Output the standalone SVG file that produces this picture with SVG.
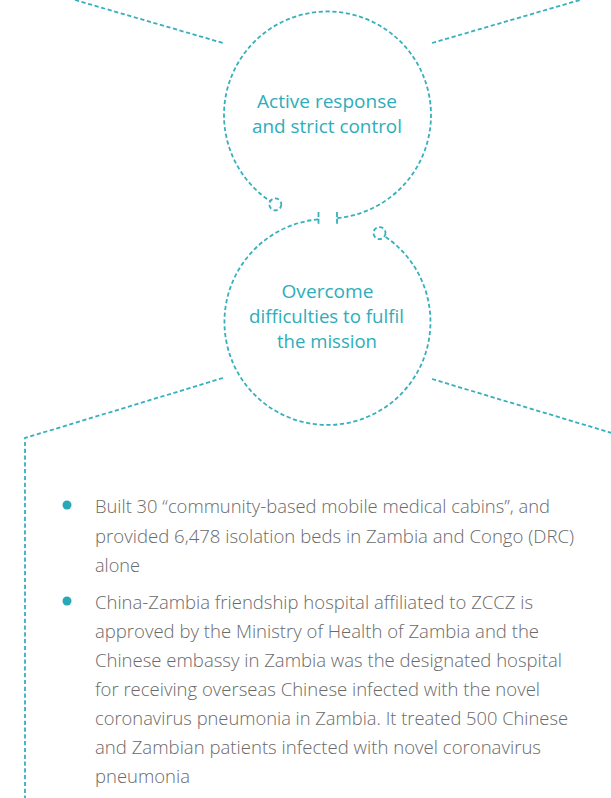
<svg xmlns="http://www.w3.org/2000/svg" width="611" height="798" viewBox="0 0 611 798">
  <style>
    .dash { fill: none; stroke: #37afbc; stroke-width: 1.8; stroke-dasharray: 4.2 2.6; }
    .tick { fill: none; stroke: #37afbc; stroke-width: 1.8; stroke-dasharray: 5 1.8; }
    .title { font-family: "Open Sans", "Liberation Sans", sans-serif; font-weight: 400; font-size: 18px; fill: #2eadba; text-anchor: middle; }
    .body { font-family: "Open Sans", "Liberation Sans", sans-serif; font-weight: 300; font-size: 17.5px; fill: #6a6a6a; }
    .bullet { fill: #2aa8b5; }
  </style>
  <rect width="611" height="798" fill="#ffffff"/>

  <g id="connectors">
    <path class="dash" d="M75,0 L223,43"/>
    <path class="dash" d="M432,43 L580,0"/>
    <path class="dash" d="M223,378 L25,438 L25,798"/>
    <path class="dash" d="M432,379 L615,434"/>
    <line class="tick" x1="318.5" y1="212" x2="318.5" y2="225"/>
    <line class="tick" x1="337" y1="212" x2="337" y2="225"/>
  </g>

  <g id="node-active-response">
    <path class="dash" d="M337.4,218 A103.5,103.5 0 1 0 270.4,201.3"/>
    <circle class="dash" cx="275.3" cy="204.4" r="6"/>
    <text class="title" x="327" y="108" textLength="140" lengthAdjust="spacingAndGlyphs">Active response</text>
    <text class="title" x="327" y="133" textLength="150" lengthAdjust="spacingAndGlyphs">and strict control</text>
  </g>

  <g id="node-overcome">
    <path class="dash" d="M318,219.4 A103,103 0 1 0 384.5,236.2"/>
    <circle class="dash" cx="379.5" cy="233.1" r="6"/>
    <text class="title" x="327.5" y="298" textLength="92" lengthAdjust="spacingAndGlyphs">Overcome</text>
    <text class="title" x="326.5" y="323" textLength="155" lengthAdjust="spacingAndGlyphs">difficulties to fulfil</text>
    <text class="title" x="327" y="348" textLength="100" lengthAdjust="spacingAndGlyphs">the mission</text>
  </g>

  <g id="bullet-list">
    <circle class="bullet" cx="67" cy="505" r="4.5"/>
    <text class="body" x="95" y="513" textLength="455" lengthAdjust="spacingAndGlyphs">Built 30 “community-based mobile medical cabins”, and</text>
    <text class="body" x="95" y="542.5" textLength="479" lengthAdjust="spacingAndGlyphs">provided 6,478 isolation beds in Zambia and Congo (DRC)</text>
    <text class="body" x="95" y="571.5" textLength="45" lengthAdjust="spacingAndGlyphs">alone</text>

    <circle class="bullet" cx="67" cy="601" r="4.5"/>
    <text class="body" x="95" y="608.5" textLength="438" lengthAdjust="spacingAndGlyphs">China-Zambia friendship hospital affiliated to ZCCZ is</text>
    <text class="body" x="95" y="637.5" textLength="444" lengthAdjust="spacingAndGlyphs">approved by the Ministry of Health of Zambia and the</text>
    <text class="body" x="95" y="666.5" textLength="467" lengthAdjust="spacingAndGlyphs">Chinese embassy in Zambia was the designated hospital</text>
    <text class="body" x="95" y="695.5" textLength="445" lengthAdjust="spacingAndGlyphs">for receiving overseas Chinese infected with the novel</text>
    <text class="body" x="95" y="724.5" textLength="473" lengthAdjust="spacingAndGlyphs">coronavirus pneumonia in Zambia. It treated 500 Chinese</text>
    <text class="body" x="95" y="753.5" textLength="446" lengthAdjust="spacingAndGlyphs">and Zambian patients infected with novel coronavirus</text>
    <text class="body" x="95" y="782.5" textLength="95" lengthAdjust="spacingAndGlyphs">pneumonia</text>
  </g>
</svg>
